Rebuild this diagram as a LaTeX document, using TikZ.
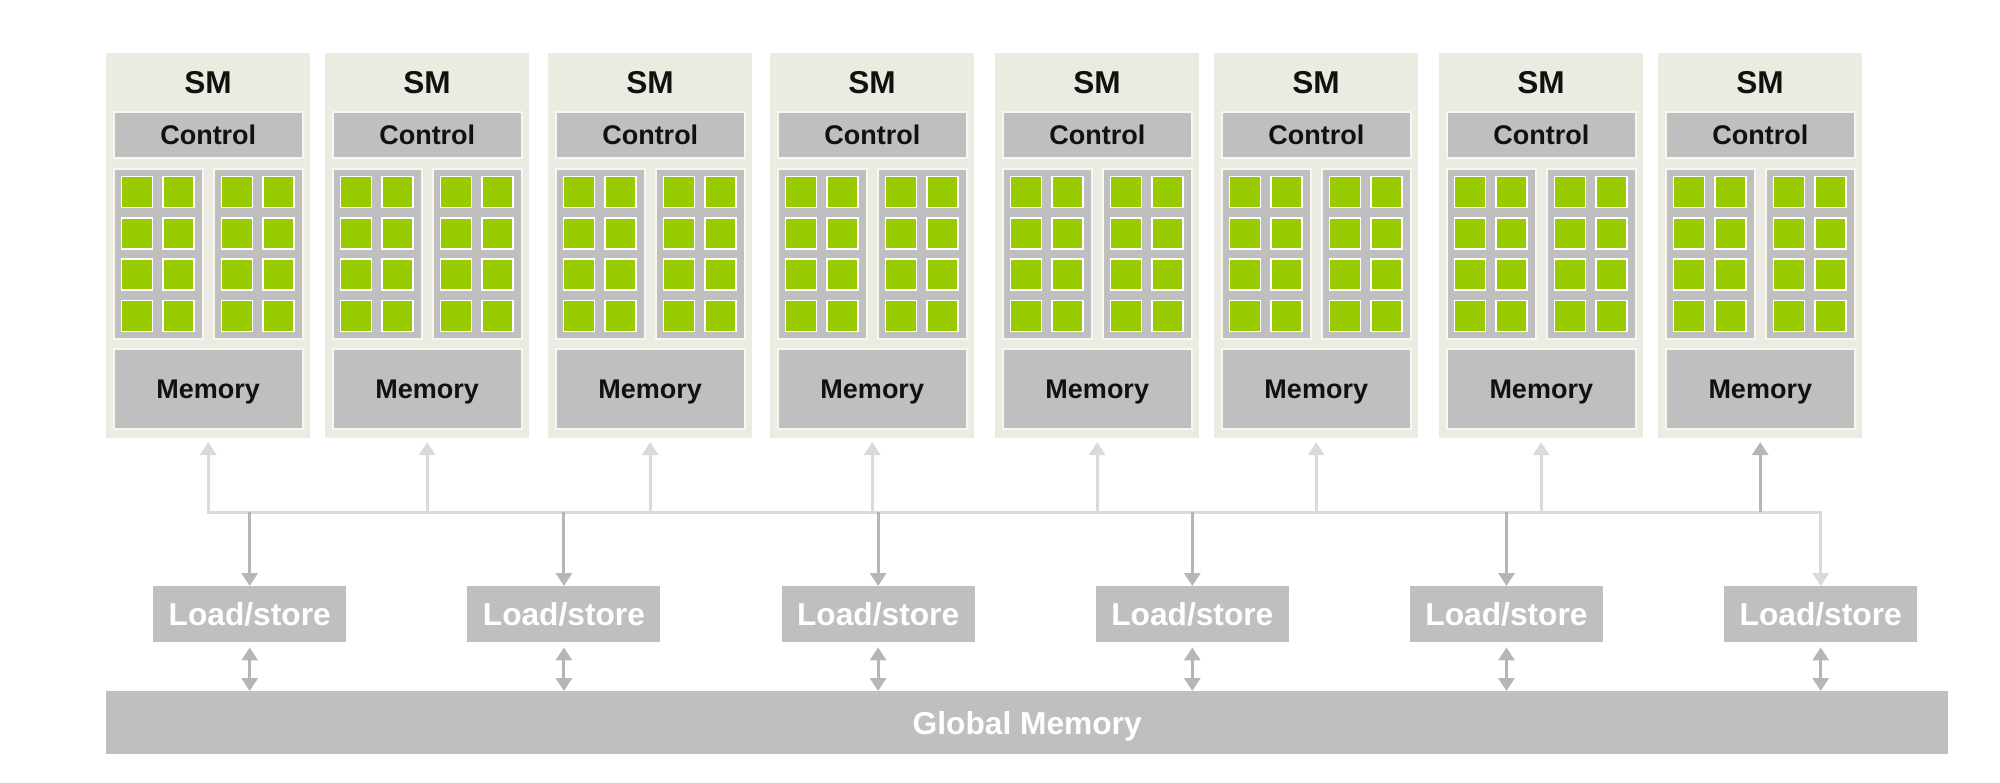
\documentclass[tikz,border=0pt]{standalone}
\usepackage{fontspec}
\setmainfont{Liberation Sans}
\usetikzlibrary{arrows.meta}
\definecolor{smbg}{RGB}{236,235,226}
\definecolor{boxgray}{RGB}{191,191,191}
\definecolor{edgec}{RGB}{247,246,241}
\definecolor{corec}{RGB}{153,204,0}
\definecolor{lightline}{RGB}{218,218,218}
\definecolor{darkline}{RGB}{182,182,182}
\definecolor{inkc}{RGB}{17,17,17}
\begin{document}
\begin{tikzpicture}[x=1pt,y=-1pt,
  smbox/.style={fill=smbg, draw=none, minimum width=204pt, minimum height=385pt, anchor=north west, inner sep=0pt},
  graybox/.style={fill=boxgray, draw=edgec, line width=1.5pt, inner sep=0pt, anchor=north west},
  smtext/.style={font=\bfseries\fontsize{31.6}{34}\selectfont, text=inkc, inner sep=0pt},
  midtext/.style={font=\bfseries\fontsize{27}{30}\selectfont, text=inkc, text depth=0pt},
  coresq/.style={fill=corec, draw=white, line width=1.5pt},
  lsbox/.style={fill=boxgray, draw=none, text=white, font=\bfseries\fontsize{31.7}{34}\selectfont, text depth=0pt, minimum width=193pt, minimum height=56pt, anchor=north west, inner sep=0pt},
  gmbox/.style={fill=boxgray, draw=none, text=white, font=\bfseries\fontsize{31.7}{34}\selectfont, text depth=0pt, minimum width=1842pt, minimum height=63pt, anchor=north west, inner sep=0pt},
  tip/.tip={Triangle[length=13pt,width=16pt]},
  conn/.style={line width=3pt},
]
\fill[white] (0,0) rectangle (2000,782);
\useasboundingbox (0,0) rectangle (2000,782);

% SM blocks
\foreach \i/\x in {1/106,2/325,3/548,4/770,5/995,6/1214,7/1439,8/1658}{
  \node[smbox] (sm\i) at (\x,52.7) {};
  \node[smtext] (smt\i) at (\x+102,83) {SM};
  \node[graybox, midtext, minimum width=189pt, minimum height=46pt] (ctl\i) at (\x+7,111) {Control};
  \node[graybox, minimum width=89pt, minimum height=170pt] (pl\i) at (\x+7,168) {};
  \node[graybox, minimum width=89pt, minimum height=170pt] (pr\i) at (\x+107,168) {};
  \foreach \p in {0,100}{
    \foreach \c in {0,1}{
      \foreach \r in {0,1,2,3}{
        \filldraw[coresq] (\x+15.7+\p+\c*41.3, 176.5+\r*41.3) rectangle ++(31,31);
      }
    }
  }
  \node[graybox, midtext, minimum width=189pt, minimum height=80pt] (mem\i) at (\x+7,348) {Memory};
}

% Load/store units
\foreach \j in {1,...,6}{
  \node[lsbox] (ls\j) at ({153+314.2*(\j-1)},586) {Load/store};
}

% Global memory
\node[gmbox] (gm) at (106,691) {Global Memory};

% Bus
\coordinate (busL) at (207,512);
\coordinate (busR) at (1822,512);
\draw[conn, lightline] (busL) -- (busR);

% Up arrows to SMs
\foreach \i in {1,...,7}{
  \draw[conn, lightline, -tip, shorten >=4pt] (sm\i.south |- busL) -- (sm\i.south);
}
\draw[conn, darkline, -tip, shorten >=4pt] (sm8.south |- busL) -- (sm8.south);

% Down arrows to load/store
\foreach \j in {1,...,5}{
  \draw[conn, darkline, -tip] (ls\j.north |- busL) -- (ls\j.north);
}
\draw[conn, lightline, -tip] (ls6.north |- busL) -- (ls6.north);

% Double arrows to global memory
\foreach \j in {1,...,6}{
  \draw[conn, darkline, tip-tip, shorten <=5pt] (ls\j.south) -- (ls\j.south |- gm.north);
}
\end{tikzpicture}
\end{document}
